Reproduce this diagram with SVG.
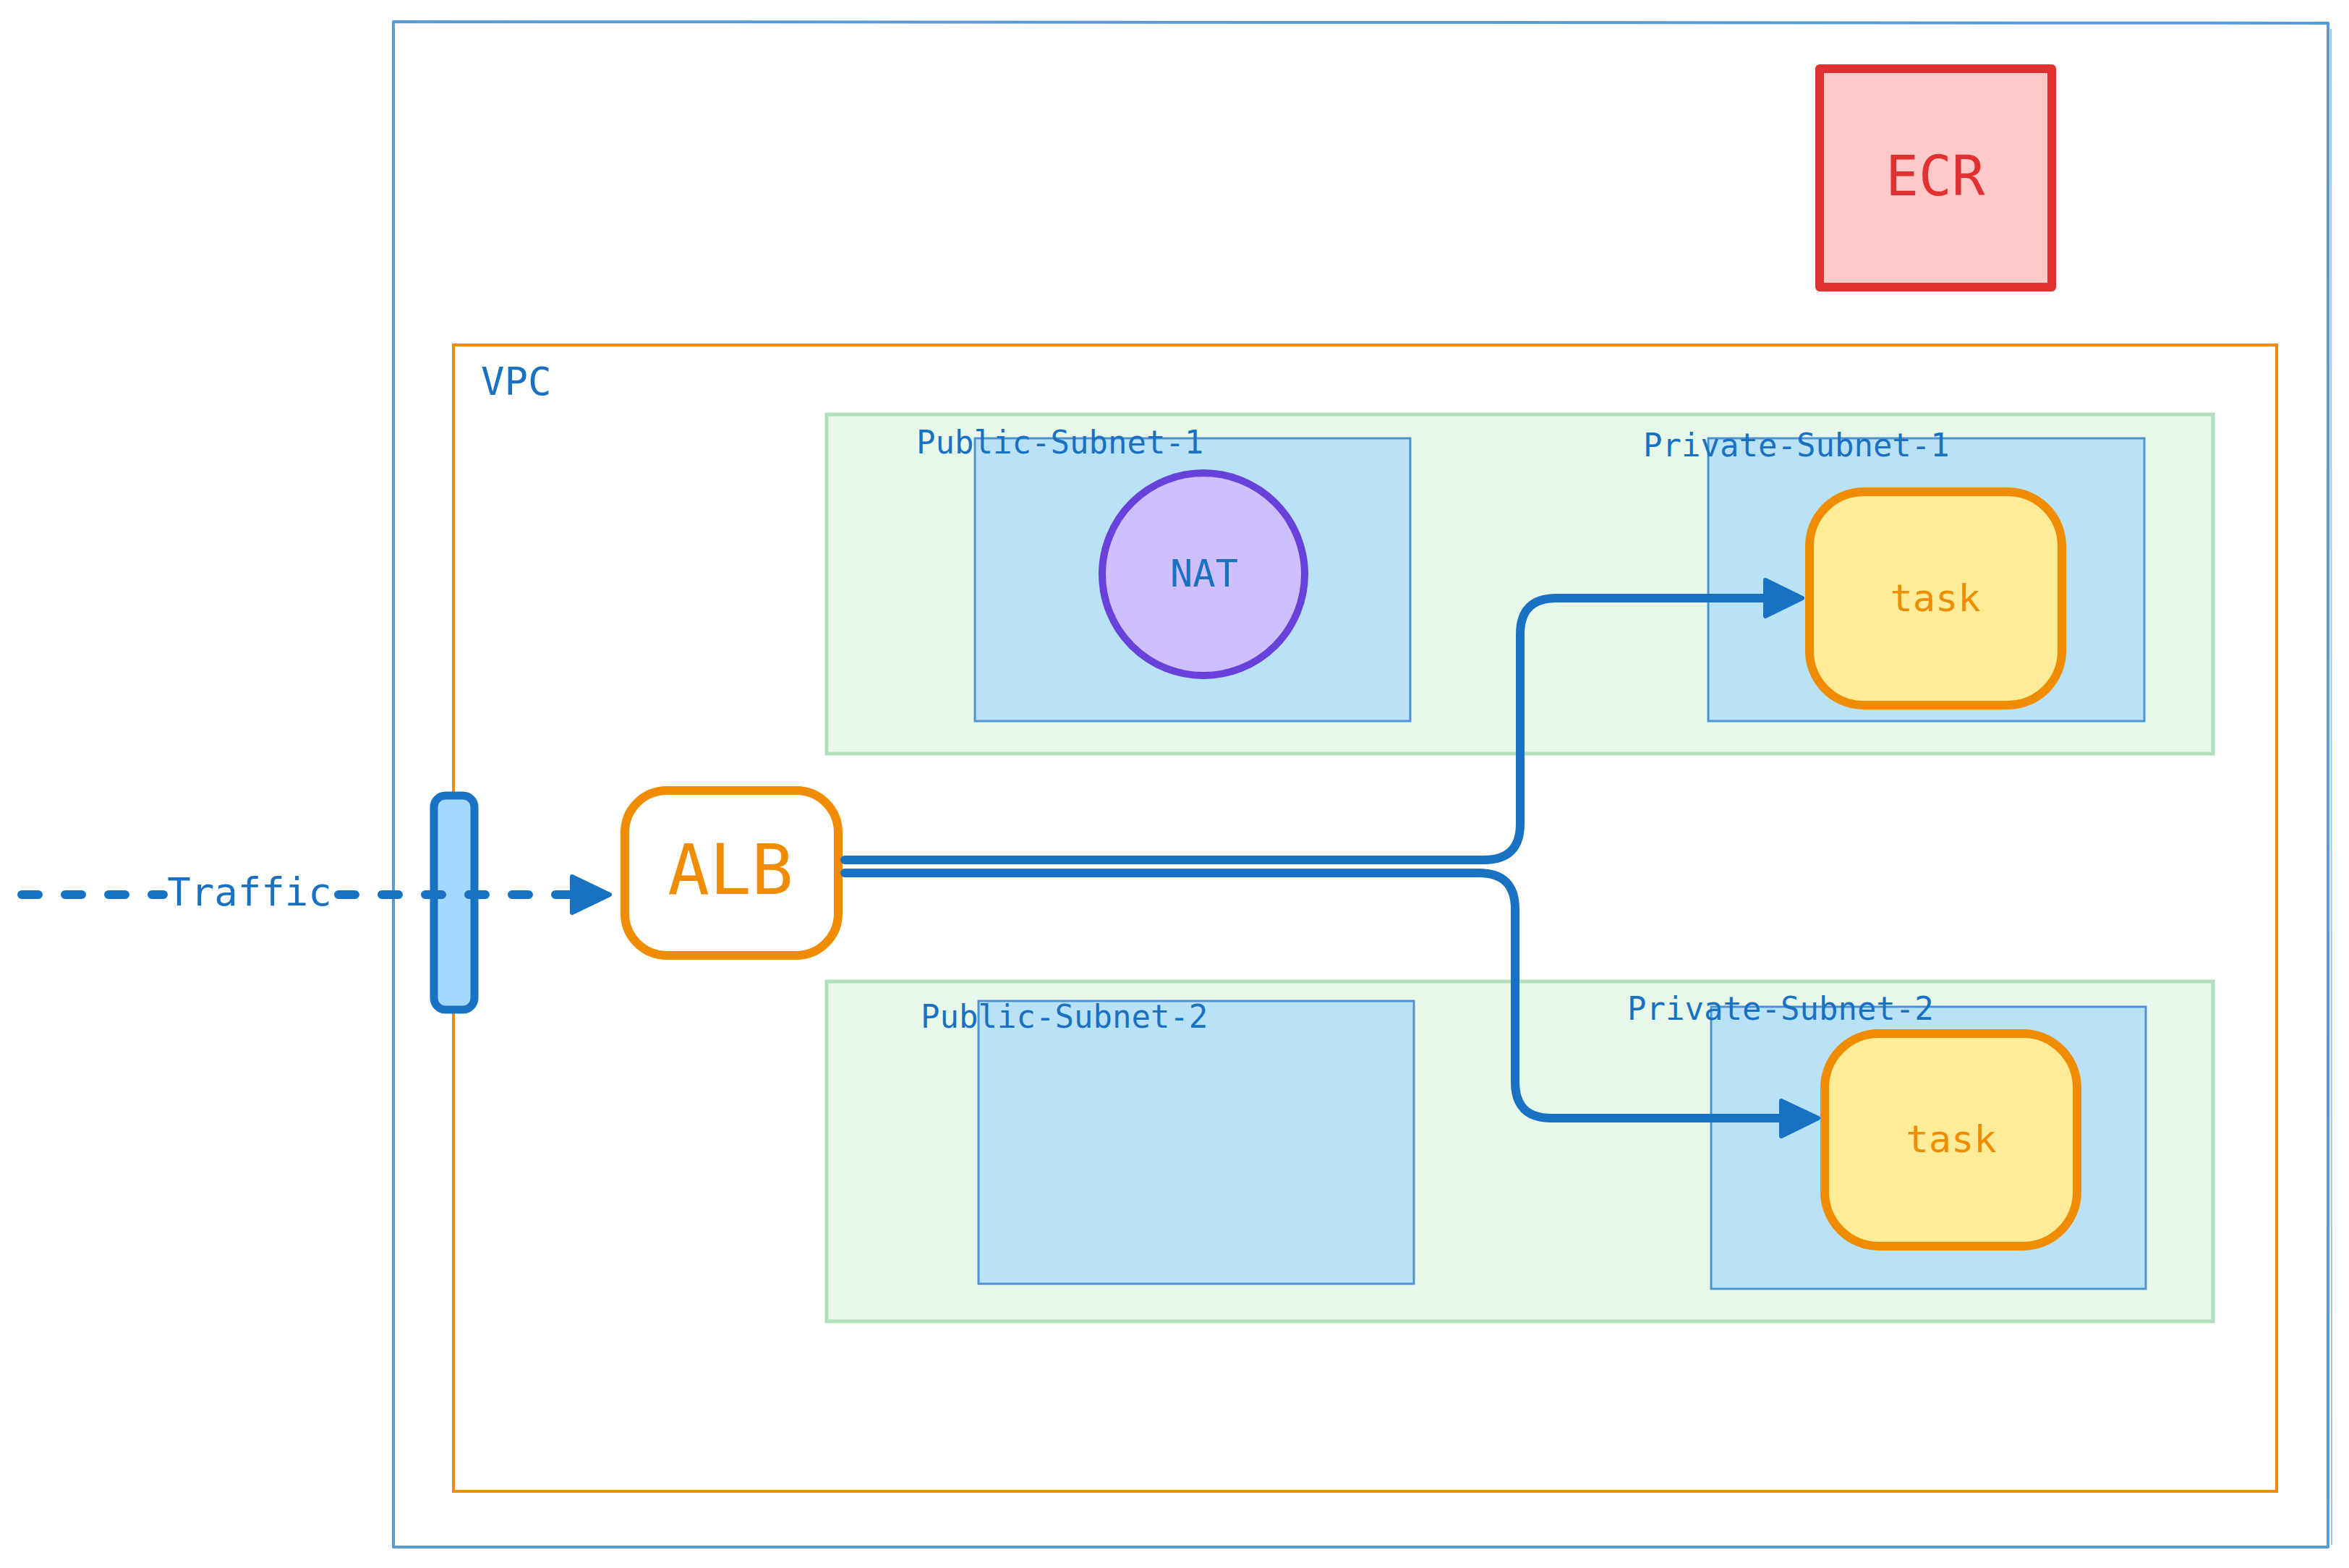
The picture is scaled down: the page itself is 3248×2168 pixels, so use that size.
<svg xmlns="http://www.w3.org/2000/svg" width="3248" height="2168" viewBox="0 0 3248 2168">
  <defs>
    <style>
      .lbl { font-family: "DejaVu Sans Mono", "Liberation Mono", monospace; fill: #1971c2; }
      .sub { font-size: 44px; }
      .zone { fill: #e7f8ea; stroke: #b2dfbb; stroke-width: 5; }
      .subnet { fill: #b9e2f7; stroke: #4f93d2; stroke-width: 3; }
      .task { fill: #ffec99; stroke: #f08c00; stroke-width: 12; }
      .task-text { font-family: "DejaVu Sans Mono", "Liberation Mono", monospace; font-size: 52px; fill: #f08c00; text-anchor: middle; }
      .wire { fill: none; stroke: #1971c2; stroke-width: 12; stroke-linecap: round; stroke-linejoin: round; }
      .dash { stroke-dasharray: 23 37; }
      .head { fill: #1971c2; stroke: #1971c2; stroke-width: 6; stroke-linejoin: round; }
    </style>
  </defs>

  <rect width="3248" height="2168" fill="#ffffff"/>

  <!-- account boundary -->
  <g id="account">
    <path d="M544 30 L3219 32 L3219 2139 L544 2139 Z" fill="none" stroke="#5b9bd5" stroke-width="4" stroke-linejoin="round"/>
    <path d="M3223 40 L3224 2136" fill="none" stroke="#5b9bd5" stroke-width="2" opacity="0.6"/>
  </g>

  <!-- container registry -->
  <g id="ecr">
    <rect x="2516" y="95" width="321" height="302" fill="#ffc9c9" stroke="#e03131" stroke-width="12" stroke-linejoin="round"/>
    <text x="2676" y="270" font-family="DejaVu Sans Mono, Liberation Mono, monospace" font-size="76" fill="#e03131" text-anchor="middle">ECR</text>
  </g>

  <!-- VPC -->
  <g id="vpc">
    <rect x="627" y="477" width="2521" height="1585" fill="none" stroke="#f08c00" stroke-width="4"/>
    <text class="lbl" x="665" y="546" font-size="54">VPC</text>
  </g>

  <!-- availability zone rows -->
  <g id="zone-1">
    <rect class="zone" x="1143" y="573" width="1917" height="469"/>
  </g>
  <g id="zone-2">
    <rect class="zone" x="1143" y="1357" width="1917" height="470"/>
  </g>

  <!-- subnets -->
  <g id="public-subnet-1">
    <rect class="subnet" x="1348" y="606" width="602" height="391"/>
    <text class="lbl sub" x="1267" y="627">Public-Subnet-1</text>
  </g>
  <g id="private-subnet-1">
    <rect class="subnet" x="2362" y="606" width="603" height="391"/>
    <text class="lbl sub" x="2272" y="631">Private-Subnet-1</text>
  </g>
  <g id="public-subnet-2">
    <rect class="subnet" x="1353" y="1384" width="602" height="391"/>
    <text class="lbl sub" x="1273" y="1421">Public-Subnet-2</text>
  </g>
  <g id="private-subnet-2">
    <rect class="subnet" x="2366" y="1392" width="601" height="390"/>
    <text class="lbl sub" x="2250" y="1410">Private-Subnet-2</text>
  </g>

  <!-- NAT gateway -->
  <g id="nat">
    <circle cx="1664" cy="794" r="140" fill="#d0bfff" stroke="#6741d9" stroke-width="10"/>
    <text class="lbl" x="1665" y="811" font-size="52" text-anchor="middle">NAT</text>
  </g>

  <!-- internet gateway -->
  <g id="igw">
    <rect x="600" y="1100" width="56" height="296" rx="16" fill="#a5d8ff" stroke="#1971c2" stroke-width="11"/>
  </g>

  <!-- load balancer -->
  <g id="alb">
    <rect x="864" y="1093" width="295" height="228" rx="58" fill="#ffffff" stroke="#f08c00" stroke-width="12"/>
    <text x="1010" y="1236" font-family="DejaVu Sans Mono, Liberation Mono, monospace" font-size="96" fill="#f08c00" text-anchor="middle">ALB</text>
  </g>

  <!-- service tasks -->
  <g id="task-1">
    <rect class="task" x="2502" y="680" width="349" height="295" rx="75"/>
    <text class="task-text" x="2676" y="845">task</text>
  </g>
  <g id="task-2">
    <rect class="task" x="2523" y="1429" width="349" height="294" rx="75"/>
    <text class="task-text" x="2698" y="1593">task</text>
  </g>

  <!-- connectors -->
  <g id="connectors">
    <path class="wire dash" d="M30 1237 H226"/>
    <path class="wire dash" d="M468 1237 H790"/>
    <polygon class="head" points="791,1212 843,1237 791,1262"/>
    <text class="lbl" x="345" y="1252" font-size="54" text-anchor="middle">Traffic</text>

    <path class="wire" d="M1168 1189 H2052 Q2102 1189 2102 1139 V877 Q2102 827 2152 827 H2445"/>
    <polygon class="head" points="2441,802 2492,827 2441,852"/>

    <path class="wire" d="M1168 1207 H2045 Q2095 1207 2095 1257 V1496 Q2095 1546 2145 1546 H2466"/>
    <polygon class="head" points="2463,1522 2514,1546 2463,1571"/>
  </g>
</svg>
